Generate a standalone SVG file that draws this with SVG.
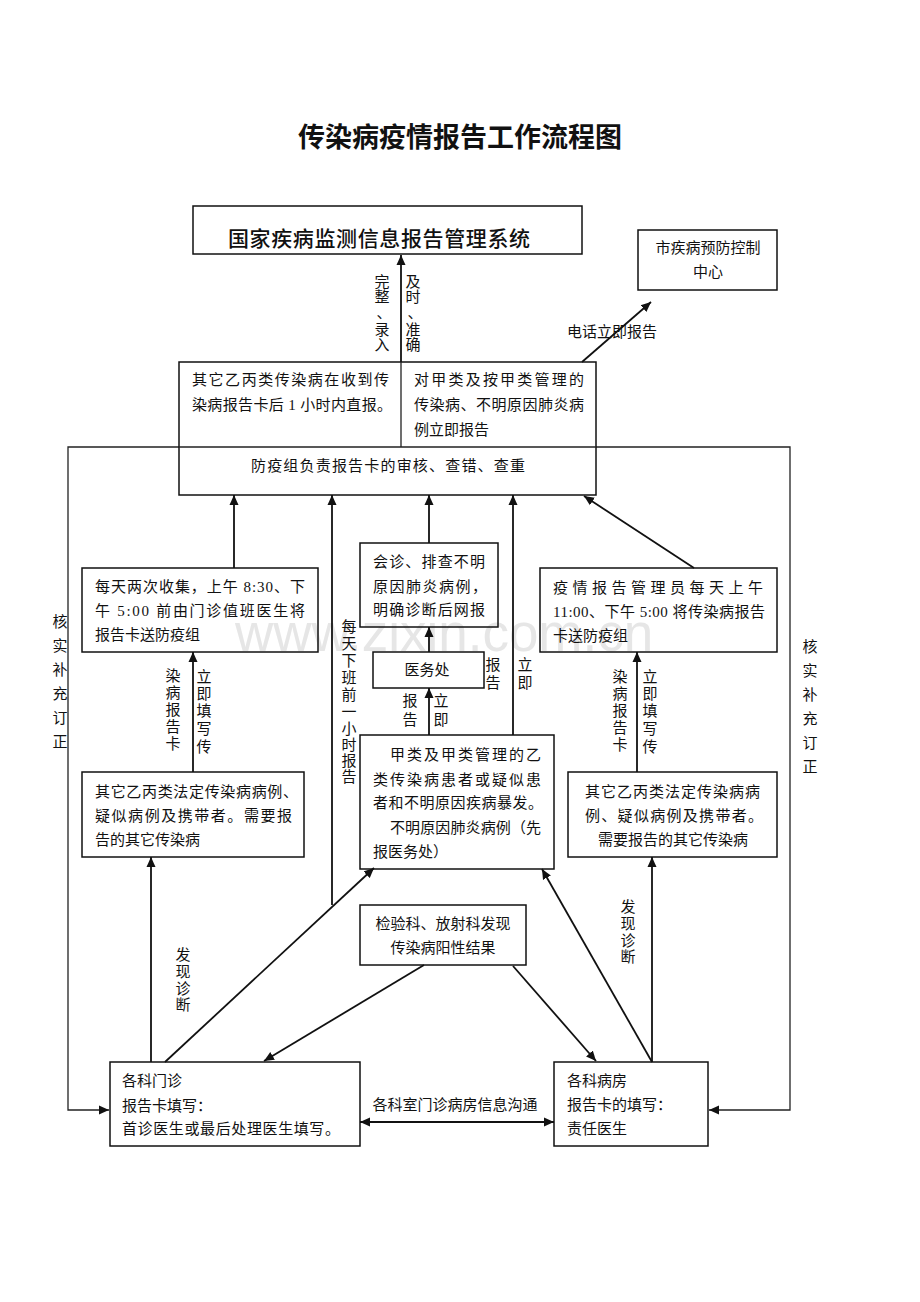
<svg xmlns="http://www.w3.org/2000/svg" width="920" height="1302" viewBox="0 0 920 1302">
<style>
text{font-family:"Liberation Serif","Noto Sans CJK SC",serif;font-size:15px;fill:#111;dominant-baseline:central}
.t{font-family:"Noto Sans CJK SC",sans-serif;font-weight:bold;font-size:27px;text-anchor:middle}
.h{font-family:"Noto Sans CJK SC",sans-serif;font-weight:500;font-size:21px}
.c{text-anchor:middle}
.v{text-anchor:middle}
.box{fill:none;stroke:#111;stroke-width:1.5}
.ln{fill:none;stroke:#111;stroke-width:1.8}
.thin{fill:none;stroke:#222;stroke-width:1.3}
.wm{font-family:"Liberation Sans",sans-serif;font-size:53px;fill:#e6e6e6;dominant-baseline:auto}
</style>
<defs>
<marker id="ah" viewBox="0 0 10 10" refX="10" refY="5" markerWidth="10" markerHeight="10" markerUnits="userSpaceOnUse" orient="auto-start-reverse">
<path d="M0,0.5 L10,5 L0,9.5 z" fill="#111"/>
</marker>
</defs>
<rect width="920" height="1302" fill="#fff"/>
<text class="wm" x="235" y="651">www.zixin.com.cn</text>

<text class="t" x="460" y="135">传染病疫情报告工作流程图</text>

<g id="connectors">
<path class="ln" d="M401,362 V255" marker-end="url(#ah)"/>
<path class="ln" d="M582,362 L651,302" marker-end="url(#ah)"/>
<path class="thin" d="M179,447 H68 V1110 H109" marker-end="url(#ah)"/>
<path class="thin" d="M596,447 H790 V1110 H709" marker-end="url(#ah)"/>
<path class="ln" d="M234,568 V495" marker-end="url(#ah)"/>
<path class="ln" d="M332,905 V495" marker-end="url(#ah)"/>
<path class="ln" d="M429,543 V495" marker-end="url(#ah)"/>
<path class="ln" d="M429,652 V627" marker-end="url(#ah)"/>
<path class="ln" d="M429,735 V688" marker-end="url(#ah)"/>
<path class="ln" d="M513,735 V495" marker-end="url(#ah)"/>
<path class="ln" d="M694,568 L584,496" marker-end="url(#ah)"/>
<path class="ln" d="M193,772 V652" marker-end="url(#ah)"/>
<path class="ln" d="M637,772 V652" marker-end="url(#ah)"/>
<path class="ln" d="M151,1062 V857" marker-end="url(#ah)"/>
<path class="ln" d="M165,1062 L374,868" marker-end="url(#ah)"/>
<path class="ln" d="M424,965 L264,1061" marker-end="url(#ah)"/>
<path class="ln" d="M513,966 L596,1061" marker-end="url(#ah)"/>
<path class="ln" d="M652,1062 L542,869" marker-end="url(#ah)"/>
<path class="ln" d="M652,1062 V857" marker-end="url(#ah)"/>
<path class="ln" d="M360,1122 H554" marker-start="url(#ah)" marker-end="url(#ah)"/>
</g>

<g id="labels">
<text class="v"><tspan x="382" y="282">完</tspan><tspan x="382" y="297">整</tspan><tspan x="384" y="313">、</tspan><tspan x="382" y="330">录</tspan><tspan x="382" y="345">入</tspan></text>
<text class="v"><tspan x="413" y="282">及</tspan><tspan x="413" y="297">时</tspan><tspan x="415" y="313">、</tspan><tspan x="413" y="330">准</tspan><tspan x="413" y="345">确</tspan></text>
<text x="567" y="332">电话立即报告</text>
<text class="v"><tspan x="60" y="622">核</tspan><tspan x="60" y="646">实</tspan><tspan x="60" y="670">补</tspan><tspan x="60" y="694">充</tspan><tspan x="60" y="718">订</tspan><tspan x="60" y="742">正</tspan></text>
<text class="v"><tspan x="810" y="647">核</tspan><tspan x="810" y="671">实</tspan><tspan x="810" y="695">补</tspan><tspan x="810" y="719">充</tspan><tspan x="810" y="743">订</tspan><tspan x="810" y="767">正</tspan></text>
<text class="v"><tspan x="349" y="627">每</tspan><tspan x="349" y="644">天</tspan><tspan x="349" y="661">下</tspan><tspan x="349" y="678">班</tspan><tspan x="349" y="695">前</tspan><tspan x="349" y="712">一</tspan><tspan x="349" y="729">小</tspan><tspan x="349" y="745">时</tspan><tspan x="349" y="761">报</tspan><tspan x="349" y="777">告</tspan></text>
<text class="v"><tspan x="173" y="676">染</tspan><tspan x="173" y="693">病</tspan><tspan x="173" y="710">报</tspan><tspan x="173" y="727">告</tspan><tspan x="173" y="744">卡</tspan></text>
<text class="v"><tspan x="204" y="677">立</tspan><tspan x="204" y="694">即</tspan><tspan x="204" y="711">填</tspan><tspan x="204" y="729">写</tspan><tspan x="204" y="747">传</tspan></text>
<text class="v"><tspan x="620" y="677">染</tspan><tspan x="620" y="694">病</tspan><tspan x="620" y="711">报</tspan><tspan x="620" y="728">告</tspan><tspan x="620" y="745">卡</tspan></text>
<text class="v"><tspan x="650" y="677">立</tspan><tspan x="650" y="694">即</tspan><tspan x="650" y="711">填</tspan><tspan x="650" y="729">写</tspan><tspan x="650" y="747">传</tspan></text>
<text class="v"><tspan x="410" y="701">报</tspan><tspan x="410" y="720">告</tspan></text>
<text class="v"><tspan x="441" y="701">立</tspan><tspan x="441" y="720">即</tspan></text>
<text class="v"><tspan x="493" y="665">报</tspan><tspan x="493" y="683">告</tspan></text>
<text class="v"><tspan x="525" y="665">立</tspan><tspan x="525" y="683">即</tspan></text>
<text class="v"><tspan x="183" y="955">发</tspan><tspan x="183" y="972">现</tspan><tspan x="183" y="989">诊</tspan><tspan x="183" y="1005">断</tspan></text>
<text class="v"><tspan x="628" y="907">发</tspan><tspan x="628" y="924">现</tspan><tspan x="628" y="941">诊</tspan><tspan x="628" y="957">断</tspan></text>
<text class="c" x="455" y="1105">各科室门诊病房信息沟通</text>
</g>

<g id="n-national">
<rect class="box" x="193" y="206" width="389" height="48"/>
<text class="h" x="228" y="237" textLength="302" lengthAdjust="spacing">国家疾病监测信息报告管理系统</text>
</g>

<g id="n-city">
<rect class="box" x="638" y="230" width="139" height="60"/>
<text class="c" x="708" y="248">市疾病预防控制</text>
<text class="c" x="708" y="272">中心</text>
</g>

<g id="n-main">
<rect class="box" x="179" y="362" width="417" height="133"/>
<path class="thin" d="M179,447 H596 M401,362 V447"/>
<text x="192" y="380" textLength="197" lengthAdjust="spacing">其它乙丙类传染病在收到传</text>
<text x="192" y="405" textLength="200" lengthAdjust="spacing">染病报告卡后 1 小时内直报。</text>
<text x="414" y="380" textLength="170" lengthAdjust="spacing">对甲类及按甲类管理的</text>
<text x="414" y="405" textLength="170" lengthAdjust="spacing">传染病、不明原因肺炎病</text>
<text x="414" y="430">例立即报告</text>
<text class="c" x="388" y="466" textLength="274" lengthAdjust="spacing">防疫组负责报告卡的审核、查错、查重</text>
</g>

<g id="n-collect">
<rect class="box" x="82" y="568" width="236" height="84"/>
<text x="95" y="587" textLength="210" lengthAdjust="spacing">每天两次收集，上午 8:30、下</text>
<text x="95" y="611" textLength="210" lengthAdjust="spacing">午 5:00 前由门诊值班医生将</text>
<text x="95" y="635">报告卡送防疫组</text>
</g>

<g id="n-consult">
<rect class="box" x="360" y="543" width="138" height="84"/>
<text x="373" y="562" textLength="112" lengthAdjust="spacing">会诊、排查不明</text>
<text x="373" y="587" textLength="114" lengthAdjust="spacing">原因肺炎病例，</text>
<text x="373" y="610" textLength="112" lengthAdjust="spacing">明确诊断后网报</text>
</g>

<g id="n-medical">
<rect class="box" x="373" y="652" width="111" height="36"/>
<text class="c" x="427" y="670">医务处</text>
</g>

<g id="n-manager">
<rect class="box" x="540" y="568" width="237" height="84"/>
<text x="553" y="588" textLength="210" lengthAdjust="spacing">疫情报告管理员每天上午</text>
<text x="553" y="612" textLength="212" lengthAdjust="spacing">11:00、下午 5:00 将传染病报告</text>
<text x="553" y="636">卡送防疫组</text>
</g>

<g id="n-classA">
<rect class="box" x="360" y="735" width="194" height="134"/>
<text x="390" y="755" textLength="151" lengthAdjust="spacing">甲类及甲类管理的乙</text>
<text x="373" y="780" textLength="168" lengthAdjust="spacing">类传染病患者或疑似患</text>
<text x="373" y="803" textLength="170" lengthAdjust="spacing">者和不明原因疾病暴发。</text>
<text x="390" y="828" textLength="151" lengthAdjust="spacing">不明原因肺炎病例（先</text>
<text x="373" y="852">报医务处）</text>
</g>

<g id="n-other-left">
<rect class="box" x="82" y="772" width="222" height="85"/>
<text x="95" y="792" textLength="203" lengthAdjust="spacing">其它乙丙类法定传染病病例、</text>
<text x="95" y="816" textLength="197" lengthAdjust="spacing">疑似病例及携带者。需要报</text>
<text x="95" y="840">告的其它传染病</text>
</g>

<g id="n-other-right">
<rect class="box" x="568" y="772" width="209" height="85"/>
<text x="585" y="792" textLength="175" lengthAdjust="spacing">其它乙丙类法定传染病病</text>
<text x="585" y="816" textLength="178" lengthAdjust="spacing">例、疑似病例及携带者。</text>
<text class="c" x="673" y="840">需要报告的其它传染病</text>
</g>

<g id="n-lab">
<rect class="box" x="360" y="905" width="166" height="60"/>
<text class="c" x="443" y="924">检验科、放射科发现</text>
<text class="c" x="443" y="948">传染病阳性结果</text>
</g>

<g id="n-outpatient">
<rect class="box" x="110" y="1062" width="250" height="84"/>
<text x="122" y="1081">各科门诊</text>
<text x="122" y="1106">报告卡填写：</text>
<text x="122" y="1129" textLength="218" lengthAdjust="spacing">首诊医生或最后处理医生填写。</text>
</g>

<g id="n-ward">
<rect class="box" x="554" y="1062" width="154" height="84"/>
<text x="567" y="1081">各科病房</text>
<text x="567" y="1105">报告卡的填写：</text>
<text x="567" y="1129">责任医生</text>
</g>
</svg>
